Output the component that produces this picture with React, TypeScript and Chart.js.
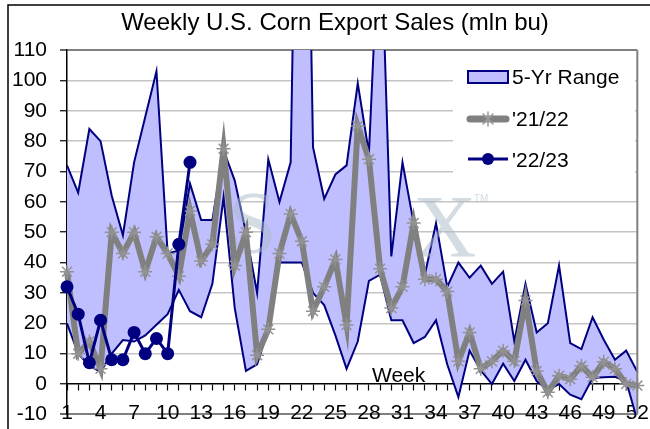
import React, { useEffect, useRef } from "react";
import { Chart, registerables } from "chart.js";

Chart.register(...registerables);

const weeks = [
  "1", "2", "3", "4", "5", "6", "7", "8", "9", "10", "11", "12", "13",
  "14", "15", "16", "17", "18", "19", "20", "21", "22", "23", "24", "25", "26",
  "27", "28", "29", "30", "31", "32", "33", "34", "35", "36", "37", "38", "39",
  "40", "41", "42", "43", "44", "45", "46", "47", "48", "49", "50", "51", "52",
];

const rangeHigh = [
  72, 63, 84, 80, 62, 49, 73, 88, 103, 43, 44, 66, 54,
  54, 77, 67, 50, 30, 74, 60, 73, 290, 78, 61, 69, 72,
  99, 76, 158, 42, 73, 53, 36, 53, 32, 40, 35, 39, 33,
  37, 14, 33, 17, 20, 39, 13.5, 11.5, 22, 14.6, 8, 11, 4,
];

const rangeLow = [
  20, 10, 6, 4, 10, 14.5, 14, 16, 19.5, 23, 31, 24, 22,
  33, 61.5, 25, 4.3, 6.5, 18, 40, 40, 40, 30, 26, 16, 5,
  14, 34, 36, 21, 21, 13.5, 15.5, 21, 6.5, -4.3, 11, 4.5, 0,
  6.7, 1, 8, 1, -2, 0, -3.5, -5, 2, 2.2, 2.4, 1, -12,
];

const sales2122 = [
  37, 10, 14, 5, 50, 43, 50, 37, 48.5, 43, 35.5, 57, 40.5,
  46, 77.5, 39, 50, 9.5, 18, 43, 56, 47, 24, 32, 41, 19.4,
  85, 74, 38, 25, 32, 53, 34.5, 34.5, 30.5, 7.5, 17, 5, 7.5,
  11, 7.5, 27.5, 4.3, -2.7, 2.7, 1.6, 6, 2.2, 7.3, 5, 0, -0.5,
];

const sales2223 = [32, 23, 7, 21, 8, 8, 17, 10, 15, 10, 46, 73];

const yTicksMin = -10;
const yTicksMax = 110;

const NAVY = "#000080";
const LAVENDER = "#BFBFFF";
const GRAY = "#808080";
const FONT = "'Liberation Sans', Arial, sans-serif";

const decorPlugin = {
  id: "decor",
  afterDatasetDraw(chart: any, args: any) {
    if (args.index !== 0) return;
    const ctx = chart.ctx;
    ctx.save();
    ctx.fillStyle = "rgba(170,185,200,0.5)";
    ctx.font = "88px 'Liberation Serif', serif";
    ctx.textBaseline = "alphabetic";
    ctx.textAlign = "left";
    ctx.fillText("S", 228, 252);
    ctx.fillText("X", 413, 256);
    ctx.font = "10px 'Liberation Sans', sans-serif";
    ctx.fillText("TM", 474, 202);
    ctx.restore();
  },
  afterDraw(chart: any) {
    const ctx = chart.ctx;
    const a = chart.chartArea;
    ctx.save();
    // outer frame
    ctx.strokeStyle = "#000";
    ctx.lineWidth = 1.5;
    ctx.beginPath();
    ctx.moveTo(8, 440);
    ctx.lineTo(8, 5);
    ctx.lineTo(670, 5);
    ctx.stroke();
    // legend box
    ctx.fillStyle = "#fff";
    ctx.fillRect(453, a.top + 1.5, 182, 136);
    // right border of plot
    ctx.strokeStyle = GRAY;
    ctx.lineWidth = 2;
    ctx.beginPath();
    ctx.moveTo(a.right, a.top);
    ctx.lineTo(a.right, a.bottom);
    ctx.stroke();
    // title
    ctx.fillStyle = "#000";
    ctx.font = `24px ${FONT}`;
    ctx.textAlign = "center";
    ctx.textBaseline = "middle";
    ctx.fillText("Weekly U.S. Corn Export Sales (mln bu)", 335, 23);
    // axis title
    ctx.font = `21px ${FONT}`;
    ctx.textAlign = "left";
    ctx.textBaseline = "alphabetic";
    ctx.fillText("Week", 372, 382);
    // legend items
    ctx.fillStyle = LAVENDER;
    ctx.fillRect(468, 71, 40, 12);
    ctx.strokeStyle = NAVY;
    ctx.lineWidth = 2;
    ctx.strokeRect(468, 71, 40, 12);
    ctx.lineCap = "round";
    ctx.strokeStyle = GRAY;
    ctx.lineWidth = 7;
    ctx.beginPath();
    ctx.moveTo(470, 119);
    ctx.lineTo(506, 119);
    ctx.stroke();
    ctx.strokeStyle = "#9a9a9a";
    ctx.lineWidth = 1.5;
    ctx.beginPath();
    const r = 7;
    ctx.moveTo(488 - r * 0.7, 119 - r * 0.7);
    ctx.lineTo(488 + r * 0.7, 119 + r * 0.7);
    ctx.moveTo(488 + r * 0.7, 119 - r * 0.7);
    ctx.lineTo(488 - r * 0.7, 119 + r * 0.7);
    ctx.moveTo(488, 119 - r);
    ctx.lineTo(488, 119 + r);
    ctx.stroke();
    ctx.lineCap = "butt";
    ctx.strokeStyle = NAVY;
    ctx.lineWidth = 3;
    ctx.beginPath();
    ctx.moveTo(468, 159);
    ctx.lineTo(508, 159);
    ctx.stroke();
    ctx.fillStyle = NAVY;
    ctx.beginPath();
    ctx.arc(488, 159, 6, 0, Math.PI * 2);
    ctx.fill();
    ctx.fillStyle = "#000";
    ctx.font = `21px ${FONT}`;
    ctx.textBaseline = "middle";
    ctx.fillText("5-Yr Range", 512, 78);
    ctx.fillText("'21/22", 512, 120);
    ctx.fillText("'22/23", 512, 161);
    ctx.restore();
  },
};

export default function App() {
  const ref = useRef<HTMLCanvasElement | null>(null);

  useEffect(() => {
    document.body.style.margin = "0";
    document.body.style.overflow = "hidden";
    document.documentElement.style.overflow = "hidden";
    const canvas = ref.current;
    if (!canvas) return;
    const chart = new Chart(canvas, {
      type: "line",
      data: {
        labels: weeks,
        datasets: [
          {
            label: "5-Yr Range",
            data: rangeHigh,
            borderColor: NAVY,
            borderWidth: 2,
            pointRadius: 0,
            fill: "+1",
            backgroundColor: LAVENDER,
            tension: 0,
            order: 3,
            clip: 0,
          },
          {
            label: "5-Yr Low",
            data: rangeLow,
            borderColor: NAVY,
            borderWidth: 2,
            pointRadius: 0,
            fill: false,
            tension: 0,
            order: 2,
            clip: 0,
          },
          {
            label: "'21/22",
            data: sales2122,
            borderColor: GRAY,
            borderWidth: 6,
            pointStyle: "star",
            pointRadius: 7,
            pointBorderColor: "#929292",
            pointBackgroundColor: "#929292",
            pointBorderWidth: 1.5,
            fill: false,
            tension: 0,
            order: 1,
            clip: false,
          },
          {
            label: "'22/23",
            data: sales2223,
            borderColor: NAVY,
            borderWidth: 3,
            pointStyle: "circle",
            pointRadius: 6.5,
            pointBackgroundColor: NAVY,
            pointBorderColor: NAVY,
            pointBorderWidth: 0,
            fill: false,
            tension: 0,
            order: 0,
            clip: false,
          },
        ],
      },
      options: {
        animation: false,
        responsive: false,
        devicePixelRatio: 1,
        layout: { padding: { left: 0, right: 12, top: 50, bottom: 19 } },
        plugins: {
          legend: { display: false },
          title: { display: false },
          tooltip: { enabled: false },
        },
        scales: {
          x: {
            type: "category",
            position: { y: 0 } as any,
            offset: false,
            grid: {
              drawOnChartArea: false,
              drawTicks: true,
              tickLength: 6,
              tickColor: "#000",
              tickWidth: 1.2,
            },
            border: { color: "#000", width: 1.5 },
            ticks: {
              autoSkip: false,
              maxRotation: 0,
              minRotation: 0,
              padding: 11,
              color: "#000",
              font: { family: FONT, size: 21 },
              callback: (_v: any, i: number) => (i % 3 === 0 ? weeks[i] : ""),
            },
          },
          y: {
            min: yTicksMin,
            max: yTicksMax,
            afterFit: (scale: any) => {
              scale.width = 67;
            },
            grid: {
              drawTicks: true,
              tickLength: 7,
              tickColor: "#000",
              tickWidth: 1.2,
              color: (c: any) => {
                const v = c.tick ? c.tick.value : null;
                if (v === yTicksMax || v === yTicksMin) return GRAY;
                if (v === 0) return "rgba(0,0,0,0)";
                return "#c4c4c4";
              },
              lineWidth: (c: any) => {
                const v = c.tick ? c.tick.value : null;
                if (v === yTicksMax || v === yTicksMin) return 2;
                return 1.5;
              },
            },
            border: { color: "#000", width: 1.5 },
            ticks: {
              stepSize: 10,
              padding: 13,
              color: "#000",
              font: { family: FONT, size: 21 },
            },
          },
        },
      },
      plugins: [decorPlugin],
    });
    return () => chart.destroy();
  }, []);

  return (
    <div style={{ width: 650, height: 429, overflow: "hidden", position: "relative", background: "#fff" }}>
      <canvas ref={ref} width={660} height={440} style={{ width: 660, height: 440, display: "block" }} />
    </div>
  );
}
